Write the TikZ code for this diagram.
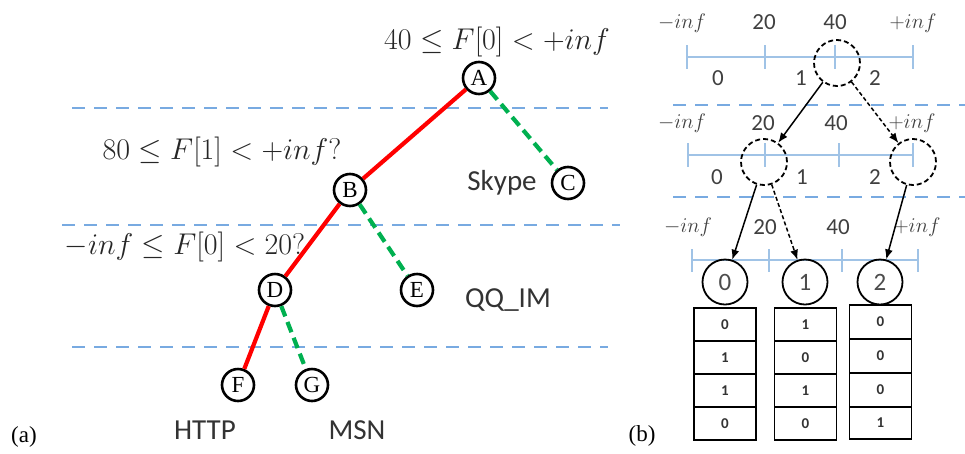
\RequirePackage{fix-cm}
\documentclass[tikz,border=0pt]{standalone}
\usepackage{fontspec}
\setmainfont{Liberation Serif}
\newfontfamily\calibri{Carlito}
\usetikzlibrary{arrows.meta}
\definecolor{myred}{RGB}{255,0,0}
\definecolor{mygreen}{RGB}{0,176,80}
\definecolor{dashblue}{RGB}{120,170,225}
\definecolor{axisblue}{RGB}{160,195,230}
\tikzset{
  treenode/.style={circle, draw, line width=2.6pt, minimum size=32pt, inner sep=0pt, font=\fontsize{23}{23}\selectfont},
  rededge/.style={myred, line width=4.2pt},
  greenedge/.style={mygreen, line width=4.2pt, dash pattern=on 11pt off 6pt},
  sepline/.style={dashblue, line width=2.6pt, dash pattern=on 13pt off 9pt},
  condlabel/.style={font=\fontsize{30}{34}\selectfont, text=black!85, inner sep=0pt},
  sanslabel/.style={font=\calibri\fontsize{29}{34}\selectfont, text=black!80, inner sep=0pt},
  axisline/.style={axisblue, line width=1.8pt},
  dcirc/.style={circle, draw, line width=1.8pt, dash pattern=on 5pt off 3pt, minimum size=46pt, inner sep=0pt},
  scirc/.style={circle, draw, line width=1.8pt, minimum size=45pt, inner sep=0pt, font=\calibri\fontsize{25}{25}\selectfont, text=black!70},
  arr/.style={-{Latex[length=10pt,width=8pt]}, line width=1.5pt},
  darr/.style={arr, dash pattern=on 4pt off 2.5pt},
  cell/.style={draw, line width=1.4pt, minimum width=62pt, minimum height=33pt, inner sep=0pt, font=\calibri\bfseries\fontsize{15}{15}\selectfont, text=black!80},
  numlabel/.style={font=\calibri\fontsize{23}{23}\selectfont, text=black!75, inner sep=0pt},
  inflabel/.style={font=\fontsize{21}{21}\selectfont, text=black!75, inner sep=0pt},
  panel/.style={font=\fontsize{23}{23}\selectfont, inner sep=0pt}
}
\begin{document}
\begin{tikzpicture}[x=1pt,y=-1pt]
\useasboundingbox (0,0) rectangle (965,453);
% ---------- (a) ----------
\draw[sepline] (72,108) -- (608,108);
\draw[sepline] (62,225) -- (620,225);
\draw[sepline] (72,347) -- (608,347);

\node[condlabel] (lA) at (497,42) {$40 \le F[0] < +inf$};
\node[condlabel] (lB) at (222,152) {$80 \le F[1] < +inf?$};
\node[condlabel] (lD) at (185,247) {$-inf \le F[0] < 20?$};

\node[treenode] (A) at (479,78) {A};
\node[treenode] (B) at (350,190) {B};
\node[treenode] (C) at (568,183) {C};
\node[treenode] (D) at (275,290) {D};
\node[treenode] (E) at (417,290) {E};
\node[treenode] (F) at (238,385) {F};
\node[treenode] (G) at (312,385) {G};

\draw[rededge] (A) -- (B);
\draw[rededge] (B) -- (D);
\draw[rededge] (D) -- (F);
\draw[greenedge] (A) -- (C);
\draw[greenedge] (B) -- (E);
\draw[greenedge] (D) -- (G);

\node[sanslabel] (skype) at (502,183) {Skype};
\node[sanslabel] (qq) at (508,300) {QQ\_IM};
\node[sanslabel] (http) at (205,430) {HTTP};
\node[sanslabel] (msn) at (357,430) {MSN};
\node[panel] (pa) at (24,437) {(a)};

% ---------- (b) ----------
\draw[sepline] (673,105) -- (965,105);
\draw[sepline] (673,197) -- (965,197);

% level 1
\node[inflabel] at (682,23) {$-inf$};
\node[numlabel] at (764,22) {20};
\node[numlabel] at (835,22) {40};
\node[inflabel] at (913,23) {$+inf$};
\draw[axisline] (687,57) -- (913,57);
\foreach \x in {687,765,835,913} \draw[axisline] (\x,45) -- (\x,69);
\node[numlabel] at (718,78) {0};
\node[numlabel] at (801,78) {1};
\node[numlabel] at (875,78) {2};

% level 2
\node[inflabel] at (682,123) {$-inf$};
\node[numlabel] at (763,123) {20};
\node[numlabel] at (836,123) {40};
\node[inflabel] at (912,123) {$+inf$};
\draw[axisline] (688,155) -- (913,155);
\foreach \x in {688,765,839,913} \draw[axisline] (\x,143) -- (\x,167);
\node[numlabel] at (717,177) {0};
\node[numlabel] at (802,177) {1};
\node[numlabel] at (875,177) {2};

% level 3
\node[inflabel] at (688,227) {$-inf$};
\node[numlabel] at (765,227) {20};
\node[numlabel] at (838,227) {40};
\node[inflabel] at (917,227) {$+inf$};
\draw[axisline] (692,260) -- (918,260);
\foreach \x in {692,769,842,918} \draw[axisline] (\x,249) -- (\x,272);

% circles
\node[dcirc] (c1) at (837,63) {};
\node[dcirc] (c2a) at (764,162) {};
\node[dcirc] (c2b) at (913,162) {};
\node[scirc] (b0) at (725,282) {0};
\node[scirc] (b1) at (805,282) {1};
\node[scirc] (b2) at (880,282) {2};

\draw[arr] (c1) -- (c2a);
\draw[darr] (c1) -- (c2b);
\draw[arr] (c2a) -- (b0);
\draw[darr] (c2a) -- (b1);
\draw[arr] (c2b) -- (b2);

% tables
\node[cell] (t0a) at (725,324.5) {0};
\node[cell] (t0b) at (725,357.5) {1};
\node[cell] (t0c) at (725,390.5) {1};
\node[cell] (t0d) at (725,423.5) {0};
\node[cell] (t1a) at (805.5,324.5) {1};
\node[cell] (t1b) at (805.5,357.5) {0};
\node[cell] (t1c) at (805.5,390.5) {1};
\node[cell] (t1d) at (805.5,423.5) {0};
\node[cell, minimum height=34pt] (t2a) at (880.5,322) {0};
\node[cell, minimum height=34pt] (t2b) at (880.5,356) {0};
\node[cell, minimum height=34pt] (t2c) at (880.5,390) {0};
\node[cell, minimum height=32pt] (t2d) at (880.5,423) {1};

\node[panel] (pb) at (642,436) {(b)};
\end{tikzpicture}
\end{document}
